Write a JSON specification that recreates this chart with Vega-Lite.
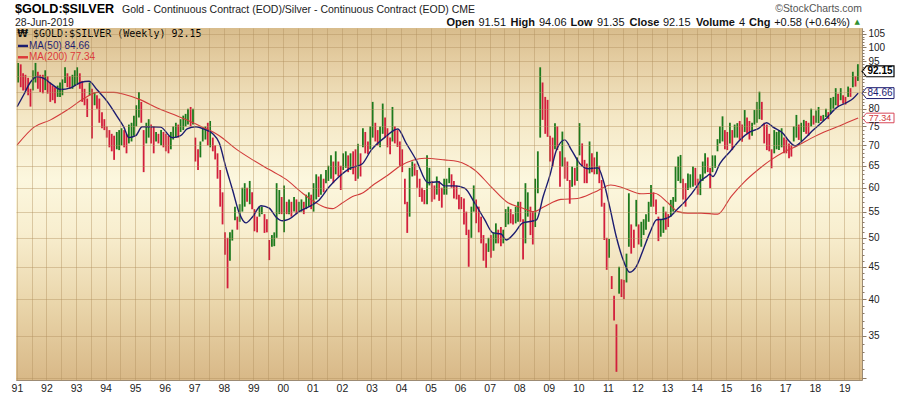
{
"$schema": "https://vega.github.io/schema/vega-lite/v6.json",
"width": 846, "height": 352,
"autosize": {"type": "none"},
"padding": {"left": 16, "top": 28, "right": 38, "bottom": 16},
"background": "#ffffff",
"config": {"view": {"stroke": "#9c8b75", "strokeWidth": 1}, "font": "Liberation Sans", "axis": {"labelOverlap": false, "labelSeparation": 0}},
"datasets": {
"bars": [
{"t":1991.04,"h":94.5,"l":88,"s":"u"},{"t":1991.13,"h":94,"l":86.5,"s":"d"},{"t":1991.21,"h":91,"l":85.5,"s":"d"},{"t":1991.29,"h":90.5,"l":85.5,"s":"d"},{"t":1991.38,"h":89.5,"l":84,"s":"d"},{"t":1991.46,"h":86,"l":80.6,"s":"d"},{"t":1991.54,"h":92,"l":85.5,"s":"u"},{"t":1991.63,"h":94.5,"l":88,"s":"u"},{"t":1991.71,"h":91.5,"l":86,"s":"d"},{"t":1991.79,"h":90.5,"l":85,"s":"d"},{"t":1991.88,"h":90.5,"l":84.6,"s":"d"},{"t":1991.96,"h":92,"l":85.6,"s":"u"},
{"t":1992.04,"h":90,"l":84.5,"s":"d"},{"t":1992.13,"h":88,"l":82,"s":"d"},{"t":1992.21,"h":87,"l":82.5,"s":"d"},{"t":1992.29,"h":86.5,"l":81.6,"s":"d"},{"t":1992.38,"h":87,"l":83.5,"s":"u"},{"t":1992.46,"h":88,"l":83.5,"s":"u"},{"t":1992.54,"h":89,"l":84,"s":"u"},{"t":1992.63,"h":93,"l":87.8,"s":"u"},{"t":1992.71,"h":91,"l":86.5,"s":"d"},{"t":1992.79,"h":90,"l":86,"s":"d"},{"t":1992.88,"h":90.5,"l":86,"s":"u"},{"t":1992.96,"h":92,"l":87,"s":"u"},
{"t":1993.04,"h":93,"l":87.5,"s":"u"},{"t":1993.13,"h":91,"l":86,"s":"d"},{"t":1993.21,"h":88.5,"l":82,"s":"d"},{"t":1993.29,"h":86,"l":81,"s":"d"},{"t":1993.38,"h":83,"l":77.6,"s":"d"},{"t":1993.46,"h":88,"l":84,"s":"u"},{"t":1993.54,"h":86,"l":71.8,"s":"d"},{"t":1993.63,"h":85,"l":81,"s":"u"},{"t":1993.71,"h":84,"l":80,"s":"d"},{"t":1993.79,"h":83,"l":76,"s":"d"},{"t":1993.88,"h":79,"l":74.5,"s":"d"},{"t":1993.96,"h":77,"l":74,"s":"d"},
{"t":1994.04,"h":75,"l":72,"s":"d"},{"t":1994.13,"h":74,"l":69.5,"s":"d"},{"t":1994.21,"h":73,"l":68.5,"s":"d"},{"t":1994.29,"h":72.5,"l":66.4,"s":"d"},{"t":1994.38,"h":73.5,"l":69,"s":"u"},{"t":1994.46,"h":74,"l":68.8,"s":"u"},{"t":1994.54,"h":74.5,"l":70,"s":"u"},{"t":1994.63,"h":74,"l":69.5,"s":"d"},{"t":1994.71,"h":73,"l":68,"s":"d"},{"t":1994.79,"h":75.5,"l":70.5,"s":"u"},{"t":1994.88,"h":76,"l":71,"s":"u"},{"t":1994.96,"h":78,"l":72.5,"s":"u"},
{"t":1995.04,"h":81,"l":75,"s":"u"},{"t":1995.13,"h":85,"l":77.5,"s":"u"},{"t":1995.21,"h":82,"l":76,"s":"d"},{"t":1995.29,"h":74,"l":63.5,"s":"d"},{"t":1995.38,"h":76,"l":70.5,"s":"u"},{"t":1995.46,"h":77,"l":72,"s":"u"},{"t":1995.54,"h":75.5,"l":70.5,"s":"d"},{"t":1995.63,"h":75,"l":68,"s":"d"},{"t":1995.71,"h":73.5,"l":71,"s":"u"},{"t":1995.79,"h":73,"l":70.5,"s":"d"},{"t":1995.88,"h":74,"l":70,"s":"u"},{"t":1995.96,"h":73.5,"l":69.5,"s":"d"},
{"t":1996.04,"h":73,"l":68.5,"s":"d"},{"t":1996.13,"h":72.5,"l":68,"s":"d"},{"t":1996.21,"h":73.5,"l":69,"s":"u"},{"t":1996.29,"h":75,"l":71.5,"s":"u"},{"t":1996.38,"h":76,"l":72,"s":"u"},{"t":1996.46,"h":75.5,"l":72,"s":"d"},{"t":1996.54,"h":77,"l":73.5,"s":"u"},{"t":1996.63,"h":78,"l":74,"s":"u"},{"t":1996.71,"h":78.5,"l":75,"s":"u"},{"t":1996.79,"h":80,"l":75.5,"s":"u"},{"t":1996.88,"h":80.5,"l":75,"s":"d"},{"t":1996.96,"h":80,"l":75.5,"s":"u"},
{"t":1997.04,"h":72,"l":66,"s":"d"},{"t":1997.13,"h":69,"l":64,"s":"d"},{"t":1997.21,"h":71,"l":67,"s":"u"},{"t":1997.29,"h":74.5,"l":71,"s":"u"},{"t":1997.38,"h":75,"l":71.5,"s":"u"},{"t":1997.46,"h":76,"l":70,"s":"d"},{"t":1997.54,"h":76.5,"l":69.5,"s":"u"},{"t":1997.63,"h":72,"l":68.5,"s":"d"},{"t":1997.71,"h":70,"l":66.5,"s":"d"},{"t":1997.79,"h":68,"l":62,"s":"d"},{"t":1997.88,"h":64,"l":56,"s":"d"},{"t":1997.96,"h":59,"l":52.5,"s":"d"},
{"t":1998.04,"h":51,"l":47,"s":"d"},{"t":1998.13,"h":50,"l":41.6,"s":"d"},{"t":1998.21,"h":51,"l":46,"s":"u"},{"t":1998.29,"h":51.5,"l":49.5,"s":"u"},{"t":1998.38,"h":56,"l":53.3,"s":"u"},{"t":1998.46,"h":54,"l":51.5,"s":"d"},{"t":1998.54,"h":56.5,"l":53,"s":"u"},{"t":1998.63,"h":60,"l":55,"s":"u"},{"t":1998.71,"h":61,"l":56,"s":"u"},{"t":1998.79,"h":60,"l":57,"s":"d"},{"t":1998.88,"h":61.5,"l":56.5,"s":"u"},{"t":1998.96,"h":59,"l":55.5,"s":"d"},
{"t":1999.04,"h":55.5,"l":51.2,"s":"d"},{"t":1999.13,"h":54,"l":51,"s":"d"},{"t":1999.21,"h":56,"l":54,"s":"u"},{"t":1999.29,"h":56,"l":54.5,"s":"u"},{"t":1999.38,"h":54.5,"l":50.9,"s":"d"},{"t":1999.46,"h":53.5,"l":51,"s":"d"},{"t":1999.54,"h":49.6,"l":46.1,"s":"d"},{"t":1999.63,"h":50.5,"l":48.4,"s":"u"},{"t":1999.71,"h":51,"l":48.5,"s":"u"},{"t":1999.79,"h":61,"l":50,"s":"u"},{"t":1999.88,"h":59.5,"l":54.5,"s":"u"},{"t":1999.96,"h":58,"l":54.5,"s":"d"},
{"t":2000.04,"h":60.5,"l":51,"s":"u"},{"t":2000.13,"h":57,"l":54.5,"s":"d"},{"t":2000.21,"h":57.5,"l":54.5,"s":"u"},{"t":2000.29,"h":57,"l":54,"s":"d"},{"t":2000.38,"h":58,"l":55,"s":"u"},{"t":2000.46,"h":57.5,"l":54.5,"s":"d"},{"t":2000.54,"h":57,"l":55,"s":"u"},{"t":2000.63,"h":57.5,"l":55,"s":"u"},{"t":2000.71,"h":57,"l":54.5,"s":"d"},{"t":2000.79,"h":58.5,"l":55.5,"s":"u"},{"t":2000.88,"h":59,"l":56,"s":"u"},{"t":2000.96,"h":58.5,"l":55.5,"s":"d"},
{"t":2001.04,"h":61,"l":55,"s":"u"},{"t":2001.13,"h":63,"l":57.5,"s":"u"},{"t":2001.21,"h":62.5,"l":58,"s":"d"},{"t":2001.29,"h":63,"l":58.5,"s":"u"},{"t":2001.38,"h":62,"l":59,"s":"d"},{"t":2001.46,"h":64,"l":61,"s":"u"},{"t":2001.54,"h":65,"l":61.5,"s":"u"},{"t":2001.63,"h":67.5,"l":62,"s":"u"},{"t":2001.71,"h":66,"l":61,"s":"d"},{"t":2001.79,"h":68.5,"l":63,"s":"u"},{"t":2001.88,"h":66,"l":62.5,"s":"d"},{"t":2001.96,"h":65,"l":59.5,"s":"d"},
{"t":2002.04,"h":68,"l":64,"s":"u"},{"t":2002.13,"h":68.5,"l":64.5,"s":"u"},{"t":2002.21,"h":67.5,"l":63.5,"s":"d"},{"t":2002.29,"h":68,"l":64,"s":"u"},{"t":2002.38,"h":68.5,"l":63,"s":"d"},{"t":2002.46,"h":69,"l":61.5,"s":"d"},{"t":2002.54,"h":70.4,"l":62,"s":"u"},{"t":2002.63,"h":68,"l":62.5,"s":"d"},{"t":2002.71,"h":74.5,"l":69.5,"s":"u"},{"t":2002.79,"h":73.5,"l":68,"s":"d"},{"t":2002.88,"h":71,"l":67.8,"s":"d"},{"t":2002.96,"h":75,"l":69,"s":"u"},
{"t":2003.04,"h":82,"l":72,"s":"u"},{"t":2003.13,"h":76,"l":71,"s":"d"},{"t":2003.21,"h":74,"l":70,"s":"d"},{"t":2003.29,"h":75,"l":69.5,"s":"u"},{"t":2003.38,"h":81.5,"l":73,"s":"u"},{"t":2003.46,"h":77.5,"l":72,"s":"d"},{"t":2003.54,"h":74.5,"l":69.5,"s":"d"},{"t":2003.63,"h":72,"l":67.8,"s":"d"},{"t":2003.71,"h":80.5,"l":71,"s":"u"},{"t":2003.79,"h":75,"l":70.5,"s":"d"},{"t":2003.88,"h":74,"l":69.6,"s":"d"},{"t":2003.96,"h":71,"l":65,"s":"d"},
{"t":2004.04,"h":69,"l":63.5,"s":"d"},{"t":2004.13,"h":62,"l":56.5,"s":"d"},{"t":2004.21,"h":57,"l":50.9,"s":"d"},{"t":2004.29,"h":64.5,"l":54,"s":"u"},{"t":2004.38,"h":66,"l":62.5,"s":"u"},{"t":2004.46,"h":65.5,"l":62.7,"s":"d"},{"t":2004.54,"h":64,"l":60,"s":"d"},{"t":2004.63,"h":62,"l":58,"s":"d"},{"t":2004.71,"h":60,"l":57,"s":"d"},{"t":2004.79,"h":59.5,"l":56.5,"s":"d"},{"t":2004.88,"h":67.5,"l":56.5,"s":"u"},{"t":2004.96,"h":64.5,"l":60.5,"s":"u"},
{"t":2005.04,"h":61.5,"l":57,"s":"d"},{"t":2005.13,"h":60.5,"l":57.5,"s":"d"},{"t":2005.21,"h":62.5,"l":58.5,"s":"u"},{"t":2005.29,"h":61.5,"l":57.2,"s":"d"},{"t":2005.38,"h":60,"l":55.8,"s":"d"},{"t":2005.46,"h":62,"l":58.5,"s":"u"},{"t":2005.54,"h":62,"l":58.5,"s":"u"},{"t":2005.63,"h":64.5,"l":61,"s":"u"},{"t":2005.71,"h":63,"l":60,"s":"d"},{"t":2005.79,"h":61.5,"l":57.7,"s":"d"},{"t":2005.88,"h":60.5,"l":57.5,"s":"d"},{"t":2005.96,"h":58.5,"l":55.5,"s":"d"},
{"t":2006.04,"h":58,"l":55.5,"s":"d"},{"t":2006.13,"h":57.7,"l":52.5,"s":"d"},{"t":2006.21,"h":55,"l":50.5,"s":"d"},{"t":2006.29,"h":51.5,"l":45,"s":"d"},{"t":2006.38,"h":56,"l":50,"s":"u"},{"t":2006.46,"h":60.5,"l":55,"s":"u"},{"t":2006.54,"h":57.5,"l":52.7,"s":"d"},{"t":2006.63,"h":56,"l":51,"s":"d"},{"t":2006.71,"h":54,"l":49,"s":"d"},{"t":2006.79,"h":50.5,"l":46,"s":"d"},{"t":2006.88,"h":49,"l":44.8,"s":"d"},{"t":2006.96,"h":50,"l":47.5,"s":"u"},
{"t":2007.04,"h":50.5,"l":46.5,"s":"d"},{"t":2007.13,"h":51,"l":47.7,"s":"u"},{"t":2007.21,"h":52.7,"l":49,"s":"u"},{"t":2007.29,"h":51.5,"l":49,"s":"d"},{"t":2007.38,"h":52,"l":48.5,"s":"d"},{"t":2007.46,"h":51.5,"l":49,"s":"u"},{"t":2007.54,"h":55.5,"l":52,"s":"u"},{"t":2007.63,"h":56,"l":52.5,"s":"u"},{"t":2007.71,"h":55.5,"l":52.7,"s":"d"},{"t":2007.79,"h":54.5,"l":52.5,"s":"d"},{"t":2007.88,"h":56,"l":52.7,"s":"u"},{"t":2007.96,"h":57,"l":53,"s":"u"},
{"t":2008.04,"h":57,"l":53,"s":"d"},{"t":2008.13,"h":53.5,"l":46.2,"s":"d"},{"t":2008.21,"h":61,"l":49,"s":"u"},{"t":2008.29,"h":59,"l":54,"s":"u"},{"t":2008.38,"h":56,"l":50.5,"s":"d"},{"t":2008.46,"h":55,"l":48.8,"s":"d"},{"t":2008.54,"h":62,"l":52,"s":"u"},{"t":2008.63,"h":68.5,"l":58.8,"s":"u"},{"t":2008.71,"h":93,"l":72,"s":"u"},{"t":2008.79,"h":88,"l":76.8,"s":"d"},{"t":2008.88,"h":83.5,"l":73,"s":"d"},{"t":2008.96,"h":82.6,"l":72.2,"s":"d"},
{"t":2009.04,"h":72.5,"l":66,"s":"d"},{"t":2009.13,"h":72,"l":64.8,"s":"d"},{"t":2009.21,"h":75.9,"l":69,"s":"u"},{"t":2009.29,"h":75,"l":68.8,"s":"d"},{"t":2009.38,"h":68.5,"l":60.2,"s":"d"},{"t":2009.46,"h":73.6,"l":64.8,"s":"u"},{"t":2009.54,"h":67,"l":62,"s":"d"},{"t":2009.63,"h":66,"l":61.5,"s":"d"},{"t":2009.71,"h":61.7,"l":56.6,"s":"d"},{"t":2009.79,"h":64.8,"l":60.2,"s":"u"},{"t":2009.88,"h":64.5,"l":60.5,"s":"d"},{"t":2009.96,"h":67,"l":61.5,"s":"u"},
{"t":2010.04,"h":75.9,"l":67.5,"s":"u"},{"t":2010.13,"h":70.5,"l":64.8,"s":"d"},{"t":2010.21,"h":66.4,"l":61,"s":"d"},{"t":2010.29,"h":65.5,"l":61,"s":"d"},{"t":2010.38,"h":71,"l":63.2,"s":"u"},{"t":2010.46,"h":68,"l":63.5,"s":"d"},{"t":2010.54,"h":67,"l":63,"s":"d"},{"t":2010.63,"h":68.4,"l":63,"s":"u"},{"t":2010.71,"h":65,"l":61,"s":"d"},{"t":2010.79,"h":61.7,"l":56,"s":"d"},{"t":2010.88,"h":56.8,"l":49.6,"s":"d"},{"t":2010.96,"h":50,"l":44.5,"s":"d"},
{"t":2011.04,"h":49.8,"l":46.5,"s":"u"},{"t":2011.13,"h":43.5,"l":41.5,"s":"d"},{"t":2011.21,"h":40.5,"l":37,"s":"d"},{"t":2011.29,"h":36.5,"l":30.7,"s":"d"},{"t":2011.38,"h":45,"l":40.8,"s":"u"},{"t":2011.46,"h":43,"l":40.3,"s":"d"},{"t":2011.54,"h":42.9,"l":40,"s":"d"},{"t":2011.63,"h":47.2,"l":42.5,"s":"u"},{"t":2011.71,"h":58.8,"l":48.4,"s":"u"},{"t":2011.79,"h":52.5,"l":47.2,"s":"d"},{"t":2011.88,"h":51.5,"l":48.2,"s":"d"},{"t":2011.96,"h":57.4,"l":52.1,"s":"u"},
{"t":2012.04,"h":52.5,"l":48.8,"s":"d"},{"t":2012.13,"h":53,"l":48.4,"s":"u"},{"t":2012.21,"h":53.5,"l":50.5,"s":"u"},{"t":2012.29,"h":54.5,"l":51.5,"s":"u"},{"t":2012.38,"h":57,"l":53,"s":"u"},{"t":2012.46,"h":60.6,"l":56,"s":"u"},{"t":2012.54,"h":59,"l":56,"s":"d"},{"t":2012.63,"h":57.5,"l":54.5,"s":"d"},{"t":2012.71,"h":54,"l":49.4,"s":"d"},{"t":2012.79,"h":53.5,"l":50.2,"s":"u"},{"t":2012.88,"h":56,"l":50.9,"s":"u"},{"t":2012.96,"h":55,"l":51.5,"s":"d"},
{"t":2013.04,"h":54.5,"l":52,"s":"d"},{"t":2013.13,"h":57.4,"l":54,"s":"u"},{"t":2013.21,"h":58,"l":55,"s":"u"},{"t":2013.29,"h":64.8,"l":57,"s":"u"},{"t":2013.38,"h":67.2,"l":61.5,"s":"u"},{"t":2013.46,"h":67.6,"l":61,"s":"u"},{"t":2013.54,"h":62,"l":57.5,"s":"d"},{"t":2013.63,"h":61,"l":56,"s":"d"},{"t":2013.71,"h":63.2,"l":59.5,"s":"u"},{"t":2013.79,"h":63,"l":60,"s":"u"},{"t":2013.88,"h":64.8,"l":60.2,"s":"u"},{"t":2013.96,"h":64.5,"l":60.5,"s":"d"},
{"t":2014.04,"h":62,"l":58.5,"s":"d"},{"t":2014.13,"h":63,"l":58.4,"s":"u"},{"t":2014.21,"h":66,"l":61.5,"s":"u"},{"t":2014.29,"h":68,"l":63.2,"s":"u"},{"t":2014.38,"h":67,"l":63.5,"s":"d"},{"t":2014.46,"h":64.5,"l":59.9,"s":"d"},{"t":2014.54,"h":67.5,"l":63.5,"s":"u"},{"t":2014.63,"h":67.5,"l":64.5,"s":"u"},{"t":2014.71,"h":71.6,"l":68.5,"s":"u"},{"t":2014.79,"h":75,"l":70.5,"s":"u"},{"t":2014.88,"h":77.8,"l":71,"s":"u"},{"t":2014.96,"h":74,"l":69,"s":"d"},
{"t":2015.04,"h":73.5,"l":68.8,"s":"d"},{"t":2015.13,"h":76,"l":70.5,"s":"u"},{"t":2015.21,"h":74,"l":68.8,"s":"d"},{"t":2015.29,"h":75.5,"l":72,"s":"u"},{"t":2015.38,"h":75.9,"l":72,"s":"u"},{"t":2015.46,"h":76.5,"l":71.4,"s":"d"},{"t":2015.54,"h":75.5,"l":70.9,"s":"d"},{"t":2015.63,"h":79.6,"l":73.5,"s":"u"},{"t":2015.71,"h":77.5,"l":73,"s":"d"},{"t":2015.79,"h":76.5,"l":71.5,"s":"d"},{"t":2015.88,"h":76,"l":72.5,"s":"u"},{"t":2015.96,"h":79.6,"l":75.5,"s":"u"},
{"t":2016.04,"h":82,"l":76,"s":"u"},{"t":2016.13,"h":85.1,"l":77,"s":"u"},{"t":2016.21,"h":82,"l":76.8,"s":"d"},{"t":2016.29,"h":76,"l":70.5,"s":"d"},{"t":2016.38,"h":75.5,"l":68.8,"s":"d"},{"t":2016.46,"h":73,"l":68.5,"s":"d"},{"t":2016.54,"h":69,"l":64.4,"s":"d"},{"t":2016.63,"h":74,"l":68,"s":"u"},{"t":2016.71,"h":73.5,"l":69,"s":"u"},{"t":2016.79,"h":74,"l":68.8,"s":"u"},{"t":2016.88,"h":74.5,"l":69.5,"s":"u"},{"t":2016.96,"h":72,"l":68,"s":"d"},
{"t":2017.04,"h":71.5,"l":68,"s":"d"},{"t":2017.13,"h":70.5,"l":66.8,"s":"d"},{"t":2017.21,"h":70,"l":67.2,"s":"d"},{"t":2017.29,"h":75,"l":71,"s":"u"},{"t":2017.38,"h":78.2,"l":72,"s":"u"},{"t":2017.46,"h":75.5,"l":71.4,"s":"d"},{"t":2017.54,"h":76,"l":71,"s":"u"},{"t":2017.63,"h":76.8,"l":73.5,"s":"u"},{"t":2017.71,"h":76.5,"l":73,"s":"d"},{"t":2017.79,"h":76,"l":72.5,"s":"d"},{"t":2017.88,"h":80,"l":75,"s":"u"},{"t":2017.96,"h":78,"l":75.5,"s":"d"},
{"t":2018.04,"h":79.5,"l":76,"s":"u"},{"t":2018.13,"h":80.5,"l":75.9,"s":"u"},{"t":2018.21,"h":78,"l":76.5,"s":"d"},{"t":2018.29,"h":78.2,"l":76.5,"s":"u"},{"t":2018.38,"h":80,"l":77.6,"s":"u"},{"t":2018.46,"h":79,"l":77,"s":"d"},{"t":2018.54,"h":83.2,"l":78.5,"s":"u"},{"t":2018.63,"h":83.5,"l":80,"s":"u"},{"t":2018.71,"h":86.2,"l":81,"s":"u"},{"t":2018.79,"h":84.5,"l":80.6,"s":"d"},{"t":2018.88,"h":86.2,"l":82.5,"s":"u"},{"t":2018.96,"h":84,"l":81.5,"s":"d"},
{"t":2019.04,"h":83.5,"l":81.2,"s":"d"},{"t":2019.13,"h":86.7,"l":83.5,"s":"u"},{"t":2019.21,"h":86.2,"l":83.5,"s":"d"},{"t":2019.29,"h":91.5,"l":86.5,"s":"u"},{"t":2019.38,"h":90,"l":86.7,"s":"d"},{"t":2019.46,"h":94.06,"l":88.5,"s":"u"}
],
"ma50": [
{"t":1991.01,"v":80.6},{"t":1991.24,"v":84.3},{"t":1991.45,"v":88.0},{"t":1991.69,"v":89.9},{"t":1991.91,"v":89.3},{"t":1992.2,"v":87.3},{"t":1992.48,"v":85.8},{"t":1992.82,"v":86.3},{"t":1993.16,"v":88.0},{"t":1993.44,"v":88.4},{"t":1993.72,"v":85.6},{"t":1994.06,"v":82.1},{"t":1994.39,"v":77.8},{"t":1994.62,"v":74.8},{"t":1994.79,"v":72.0},{"t":1995.02,"v":72.5},{"t":1995.24,"v":74.9},{"t":1995.52,"v":74.9},{"t":1995.86,"v":74.8},{"t":1996.26,"v":72.0},{"t":1996.54,"v":72.5},{"t":1996.76,"v":74.3},{"t":1997.06,"v":74.9},{"t":1997.35,"v":74.2},{"t":1997.62,"v":73.1},{"t":1997.85,"v":70.6},{"t":1998.07,"v":64.7},{"t":1998.30,"v":59.5},{"t":1998.52,"v":54.8},{"t":1998.75,"v":52.8},{"t":1998.98,"v":54.0},{"t":1999.26,"v":56.2},{"t":1999.54,"v":55.7},{"t":1999.76,"v":54.0},{"t":1999.99,"v":53.2},{"t":2000.21,"v":53.5},{"t":2000.55,"v":55.0},{"t":2000.89,"v":56.0},{"t":2001.23,"v":57.4},{"t":2001.57,"v":60.2},{"t":2001.91,"v":62.5},{"t":2002.25,"v":64.3},{"t":2002.68,"v":65.4},{"t":2002.99,"v":68.8},{"t":2003.44,"v":72.0},{"t":2003.89,"v":74.3},{"t":2004.17,"v":70.6},{"t":2004.51,"v":66.4},{"t":2004.91,"v":61.1},{"t":2005.25,"v":61.3},{"t":2005.47,"v":60.4},{"t":2005.81,"v":60.4},{"t":2006.15,"v":59.9},{"t":2006.49,"v":56.8},{"t":2006.83,"v":53.4},{"t":2007.11,"v":50.9},{"t":2007.39,"v":50.7},{"t":2007.56,"v":49.6},{"t":2007.84,"v":50.9},{"t":2008.12,"v":52.8},{"t":2008.50,"v":53.2},{"t":2008.59,"v":53.4},{"t":2008.81,"v":58.1},{"t":2009.04,"v":62.8},{"t":2009.26,"v":68.8},{"t":2009.54,"v":71.4},{"t":2009.77,"v":68.8},{"t":2010.05,"v":65.5},{"t":2010.33,"v":64.3},{"t":2010.67,"v":64.5},{"t":2010.84,"v":61.7},{"t":2011.06,"v":56.0},{"t":2011.29,"v":50.1},{"t":2011.52,"v":46.1},{"t":2011.74,"v":44.1},{"t":2011.97,"v":45.1},{"t":2012.19,"v":47.8},{"t":2012.42,"v":50.9},{"t":2012.65,"v":53.4},{"t":2012.87,"v":53.5},{"t":2013.10,"v":54.0},{"t":2013.32,"v":55.3},{"t":2013.66,"v":57.4},{"t":2014.00,"v":60.2},{"t":2014.11,"v":61.3},{"t":2014.32,"v":62.4},{"t":2014.45,"v":63.0},{"t":2014.56,"v":62.5},{"t":2014.79,"v":65.5},{"t":2015.13,"v":68.4},{"t":2015.47,"v":71.4},{"t":2015.81,"v":73.5},{"t":2016.09,"v":74.4},{"t":2016.37,"v":76.0},{"t":2016.59,"v":74.8},{"t":2016.93,"v":73.1},{"t":2017.10,"v":71.4},{"t":2017.33,"v":69.9},{"t":2017.61,"v":71.4},{"t":2017.95,"v":74.0},{"t":2018.40,"v":77.3},{"t":2018.74,"v":80.3},{"t":2019.08,"v":81.8},{"t":2019.30,"v":83.0},{"t":2019.47,"v":84.66}
],
"ma200": [
{"t":1991.01,"v":70.1},{"t":1991.58,"v":74.8},{"t":1992.14,"v":76.8},{"t":1992.70,"v":79.6},{"t":1993.27,"v":83.0},{"t":1993.72,"v":84.9},{"t":1994.28,"v":84.9},{"t":1994.62,"v":84.3},{"t":1995.19,"v":82.6},{"t":1995.75,"v":80.2},{"t":1996.31,"v":78.3},{"t":1996.85,"v":76.4},{"t":1997.28,"v":74.8},{"t":1997.85,"v":72.5},{"t":1998.41,"v":69.1},{"t":1998.98,"v":66.4},{"t":1999.54,"v":64.1},{"t":2000.10,"v":61.9},{"t":2000.67,"v":58.8},{"t":2001.12,"v":56.8},{"t":2001.46,"v":55.8},{"t":2001.68,"v":55.6},{"t":2002.02,"v":56.8},{"t":2002.36,"v":58.1},{"t":2002.68,"v":58.8},{"t":2003.10,"v":60.8},{"t":2003.55,"v":62.8},{"t":2004.01,"v":65.1},{"t":2004.40,"v":66.3},{"t":2004.80,"v":66.8},{"t":2005.47,"v":66.4},{"t":2005.92,"v":66.0},{"t":2006.49,"v":64.0},{"t":2007.05,"v":60.2},{"t":2007.62,"v":56.8},{"t":2008.07,"v":55.8},{"t":2008.50,"v":55.0},{"t":2008.84,"v":56.0},{"t":2009.41,"v":57.5},{"t":2009.97,"v":57.7},{"t":2010.54,"v":59.0},{"t":2011.10,"v":60.6},{"t":2011.55,"v":59.9},{"t":2012.12,"v":58.7},{"t":2012.58,"v":58.8},{"t":2013.03,"v":56.8},{"t":2013.37,"v":55.0},{"t":2013.71,"v":54.7},{"t":2014.16,"v":54.7},{"t":2014.72,"v":54.5},{"t":2015.17,"v":58.1},{"t":2015.62,"v":61.3},{"t":2016.07,"v":64.0},{"t":2016.52,"v":66.4},{"t":2016.97,"v":68.4},{"t":2017.42,"v":69.9},{"t":2017.87,"v":71.8},{"t":2018.32,"v":73.5},{"t":2018.76,"v":74.9},{"t":2019.08,"v":76.0},{"t":2019.47,"v":77.34}
]
},
"layer": [
{"data": {"values": [{}]},
 "mark": {"type": "rect", "color": {"gradient": "linear", "x1": 0, "y1": 0, "x2": 0, "y2": 1, "stops": [
   {"offset": 0, "color": "#d8bc8c"}, {"offset": 0.08, "color": "#e3cb9f"}, {"offset": 0.25, "color": "#f4e7c5"}, {"offset": 0.43, "color": "#fcf7de"}, {"offset": 0.58, "color": "#f8eecf"}, {"offset": 0.78, "color": "#ead6ab"}, {"offset": 1, "color": "#d8b887"}]}},
 "encoding": {
  "x": {"datum": 1990.97, "type": "quantitative",
    "scale": {"domain": [1990.97, 2019.6], "nice": false, "zero": false},
    "axis": {"title": null, "orient": "bottom", "tickCount": 200, "values": [1991,1991.5,1992,1992.5,1993,1993.5,1994,1994.5,1995,1995.5,1996,1996.5,1997,1997.5,1998,1998.5,1999,1999.5,2000,2000.5,2001,2001.5,2002,2002.5,2003,2003.5,2004,2004.5,2005,2005.5,2006,2006.5,2007,2007.5,2008,2008.5,2009,2009.5,2010,2010.5,2011,2011.5,2012,2012.5,2013,2013.5,2014,2014.5,2015,2015.5,2016,2016.5,2017,2017.5,2018,2018.5,2019,2019.5],
      "labelExpr": "datum.value % 1 == 0 ? slice(toString(datum.value), 2) : ''",
      "labelOverlap": false, "labelSeparation": 0, "labelFlush": false, "labelFont": "Liberation Sans", "labelFontSize": 10.5, "labelColor": "#222222", "labelPadding": 3,
      "ticks": false, "domain": false, "grid": true, "gridColor": "#b1905c", "gridOpacity": 0.42, "gridWidth": 1, "zindex": 1}},
  "x2": {"datum": 2019.6},
  "y": {"datum": 107.3, "type": "quantitative",
    "scale": {"type": "log", "domain": [29.8, 107.3], "nice": false},
    "axis": {"title": null, "orient": "right", "tickCount": 200, "values": [30,31,32,33,34,35,36,37,38,39,40,41,42,43,44,45,46,47,48,49,50,51,52,53,54,55,56,57,58,59,60,61,62,63,64,65,66,67,68,69,70,71,72,73,74,75,76,77,78,79,80,81,82,83,84,85,86,87,88,89,90,91,92,93,94,95,96,97,98,99,100,101,102,103,104,105,106],
      "labelExpr": "datum.value % 5 == 0 && datum.value >= 35 && datum.value != 85 && datum.value != 90 ? datum.label : ''",
      "labelOverlap": false, "labelFlush": false, "labelFont": "Liberation Sans", "labelFontSize": 10, "labelColor": "#222222", "labelPadding": 2,
      "tickSize": {"condition": {"test": "datum.value % 5 == 0", "value": 4}, "value": 2}, "tickColor": "#8c7b66",
      "domain": false, "grid": true, "gridColor": "#b1905c", "gridOpacity": {"condition": {"test": "datum.value % 5 == 0", "value": 0.42}, "value": 0}, "zindex": 1}},
  "y2": {"datum": 29.8}}},
{"data": {"name": "bars"},
 "mark": {"type": "rule", "strokeWidth": 1.8},
 "encoding": {
  "x": {"field": "t", "type": "quantitative", "title": null},
  "y": {"field": "l", "type": "quantitative", "title": null},
  "y2": {"field": "h"},
  "color": {"field": "s", "type": "nominal", "scale": {"domain": ["d", "u"], "range": ["#d21f3c", "#1d7a1d"]}, "legend": null}
 }},
{"data": {"name": "ma200"},
 "mark": {"type": "line", "color": "#d23a3a", "strokeWidth": 1.1, "interpolate": "monotone"},
 "encoding": {"x": {"field": "t", "type": "quantitative", "title": null}, "y": {"field": "v", "type": "quantitative", "title": null}}},
{"data": {"name": "ma50"},
 "mark": {"type": "line", "color": "#1c1c70", "strokeWidth": 1.4, "interpolate": "monotone"},
 "encoding": {"x": {"field": "t", "type": "quantitative", "title": null}, "y": {"field": "v", "type": "quantitative", "title": null}}},

{"data": {"values": [{}]}, "mark": {"type": "text", "text": "$GOLD:$SILVER", "align": "left", "baseline": "middle", "dx": -1, "font": "Liberation Sans", "fontSize": 12.6, "fontWeight": "bold", "color": "#000000"},
 "encoding": {"x": {"datum": 1990.97, "type": "quantitative"}, "y": {"datum": 114.86, "type": "quantitative"}}},
{"data": {"values": [{}]}, "mark": {"type": "text", "text": "Gold - Continuous Contract (EOD)/Silver - Continuous Contract (EOD) CME", "align": "left", "baseline": "middle", "dx": 106, "font": "Liberation Sans", "fontSize": 10.5, "color": "#222222"},
 "encoding": {"x": {"datum": 1990.97, "type": "quantitative"}, "y": {"datum": 114.6, "type": "quantitative"}}},
{"data": {"values": [{}]}, "mark": {"type": "text", "text": "©StockCharts.com", "align": "right", "baseline": "middle", "dx": 0, "font": "Liberation Sans", "fontSize": 10.4, "color": "#555555"},
 "encoding": {"x": {"datum": 2019.6, "type": "quantitative"}, "y": {"datum": 114.86, "type": "quantitative"}}},
{"data": {"values": [{}]}, "mark": {"type": "text", "text": "28-Jun-2019", "align": "left", "baseline": "middle", "dx": -1, "font": "Liberation Sans", "fontSize": 10.5, "color": "#222222"},
 "encoding": {"x": {"datum": 1990.97, "type": "quantitative"}, "y": {"datum": 109.3, "type": "quantitative"}}},
{"data": {"values": [{}]}, "mark": {"type": "text", "text": "▲", "align": "right", "baseline": "middle", "dx": -2, "font": "DejaVu Sans", "fontSize": 7, "color": "#2f8f2f"},
 "encoding": {"x": {"datum": 2019.6, "type": "quantitative"}, "y": {"datum": 109.5, "type": "quantitative"}}},
{"data": {"values": [{}]}, "mark": {"type": "text", "text": "+0.58 (+0.64%)", "align": "right", "baseline": "middle", "dx": -12, "font": "Liberation Sans", "fontSize": 11, "color": "#111111"},
 "encoding": {"x": {"datum": 2019.6, "type": "quantitative"}, "y": {"datum": 109.45, "type": "quantitative"}}},
{"data": {"values": [{}]}, "mark": {"type": "text", "text": "Chg", "align": "right", "baseline": "middle", "dx": -91.5, "font": "Liberation Sans", "fontSize": 11, "fontWeight": "bold", "color": "#111111"},
 "encoding": {"x": {"datum": 2019.6, "type": "quantitative"}, "y": {"datum": 109.45, "type": "quantitative"}}},
{"data": {"values": [{}]}, "mark": {"type": "text", "text": "4", "align": "right", "baseline": "middle", "dx": -117, "font": "Liberation Sans", "fontSize": 11, "color": "#111111"},
 "encoding": {"x": {"datum": 2019.6, "type": "quantitative"}, "y": {"datum": 109.45, "type": "quantitative"}}},
{"data": {"values": [{}]}, "mark": {"type": "text", "text": "Volume", "align": "right", "baseline": "middle", "dx": -127, "font": "Liberation Sans", "fontSize": 11, "fontWeight": "bold", "color": "#111111"},
 "encoding": {"x": {"datum": 2019.6, "type": "quantitative"}, "y": {"datum": 109.45, "type": "quantitative"}}},
{"data": {"values": [{}]}, "mark": {"type": "text", "text": "92.15", "align": "right", "baseline": "middle", "dx": -171.5, "font": "Liberation Sans", "fontSize": 11, "color": "#111111"},
 "encoding": {"x": {"datum": 2019.6, "type": "quantitative"}, "y": {"datum": 109.45, "type": "quantitative"}}},
{"data": {"values": [{}]}, "mark": {"type": "text", "text": "Close", "align": "right", "baseline": "middle", "dx": -202.5, "font": "Liberation Sans", "fontSize": 11, "fontWeight": "bold", "color": "#111111"},
 "encoding": {"x": {"datum": 2019.6, "type": "quantitative"}, "y": {"datum": 109.45, "type": "quantitative"}}},
{"data": {"values": [{}]}, "mark": {"type": "text", "text": "91.35", "align": "right", "baseline": "middle", "dx": -237.5, "font": "Liberation Sans", "fontSize": 11, "color": "#111111"},
 "encoding": {"x": {"datum": 2019.6, "type": "quantitative"}, "y": {"datum": 109.45, "type": "quantitative"}}},
{"data": {"values": [{}]}, "mark": {"type": "text", "text": "Low", "align": "right", "baseline": "middle", "dx": -269.5, "font": "Liberation Sans", "fontSize": 11, "fontWeight": "bold", "color": "#111111"},
 "encoding": {"x": {"datum": 2019.6, "type": "quantitative"}, "y": {"datum": 109.45, "type": "quantitative"}}},
{"data": {"values": [{}]}, "mark": {"type": "text", "text": "94.06", "align": "right", "baseline": "middle", "dx": -295.5, "font": "Liberation Sans", "fontSize": 11, "color": "#111111"},
 "encoding": {"x": {"datum": 2019.6, "type": "quantitative"}, "y": {"datum": 109.45, "type": "quantitative"}}},
{"data": {"values": [{}]}, "mark": {"type": "text", "text": "High", "align": "right", "baseline": "middle", "dx": -327, "font": "Liberation Sans", "fontSize": 11, "fontWeight": "bold", "color": "#111111"},
 "encoding": {"x": {"datum": 2019.6, "type": "quantitative"}, "y": {"datum": 109.45, "type": "quantitative"}}},
{"data": {"values": [{}]}, "mark": {"type": "text", "text": "91.51", "align": "right", "baseline": "middle", "dx": -356, "font": "Liberation Sans", "fontSize": 11, "color": "#111111"},
 "encoding": {"x": {"datum": 2019.6, "type": "quantitative"}, "y": {"datum": 109.45, "type": "quantitative"}}},
{"data": {"values": [{}]}, "mark": {"type": "text", "text": "Open", "align": "right", "baseline": "middle", "dx": -387.5, "font": "Liberation Sans", "fontSize": 11, "fontWeight": "bold", "color": "#111111"},
 "encoding": {"x": {"datum": 2019.6, "type": "quantitative"}, "y": {"datum": 109.45, "type": "quantitative"}}},

{"data": {"values": [{}]}, "mark": {"type": "text", "text": "₩", "align": "left", "baseline": "middle", "dx": 1, "font": "DejaVu Sans", "fontSize": 10, "fontWeight": "bold", "color": "#111111"},
 "encoding": {"x": {"datum": 1990.97, "type": "quantitative"}, "y": {"datum": 105.0, "type": "quantitative"}}},
{"data": {"values": [{}]}, "mark": {"type": "text", "text": "$GOLD:$SILVER (Weekly) 92.15", "align": "left", "baseline": "middle", "dx": 17, "font": "DejaVu Sans Mono", "fontSize": 10, "color": "#000000"},
 "encoding": {"x": {"datum": 1990.97, "type": "quantitative"}, "y": {"datum": 105.0, "type": "quantitative"}}},
{"data": {"values": [{}]}, "mark": {"type": "rule", "color": "#1c1c70", "strokeWidth": 2.5},
 "encoding": {"x": {"datum": 1991.038, "type": "quantitative"}, "x2": {"datum": 1991.376}, "y": {"datum": 100.5, "type": "quantitative"}}},
{"data": {"values": [{}]}, "mark": {"type": "text", "text": "MA(50) 84.66", "align": "left", "baseline": "middle", "dx": 13, "font": "Liberation Sans", "fontSize": 10, "color": "#1c1c70"},
 "encoding": {"x": {"datum": 1990.97, "type": "quantitative"}, "y": {"datum": 100.5, "type": "quantitative"}}},
{"data": {"values": [{}]}, "mark": {"type": "rule", "color": "#dd3a3a", "strokeWidth": 2.5},
 "encoding": {"x": {"datum": 1991.038, "type": "quantitative"}, "x2": {"datum": 1991.376}, "y": {"datum": 96.45, "type": "quantitative"}}},
{"data": {"values": [{}]}, "mark": {"type": "text", "text": "MA(200) 77.34", "align": "left", "baseline": "middle", "dx": 13, "font": "Liberation Sans", "fontSize": 10, "color": "#dd3a3a"},
 "encoding": {"x": {"datum": 1990.97, "type": "quantitative"}, "y": {"datum": 96.45, "type": "quantitative"}}},

{"data": {"values": [{}]}, "mark": {"type": "point", "shape": "M -1 0 L -0.72 -0.34 L 1 -0.34 L 1 0.34 L -0.72 0.34 Z", "size": 1024, "filled": true, "fill": "#ffffff", "stroke": "#000000", "strokeWidth": 1.2, "opacity": 1, "xOffset": 16, "yOffset": 1.5},
 "encoding": {"x": {"datum": 2019.6, "type": "quantitative"}, "y": {"datum": 92.15, "type": "quantitative"}}},
{"data": {"values": [{}]}, "mark": {"type": "text", "text": "92.15", "align": "center", "baseline": "middle", "dx": 18, "dy": 1.5, "font": "Liberation Sans", "fontSize": 10, "fontWeight": "bold", "color": "#000000"},
 "encoding": {"x": {"datum": 2019.6, "type": "quantitative"}, "y": {"datum": 92.15, "type": "quantitative"}}},
{"data": {"values": [{}]}, "mark": {"type": "point", "shape": "M -1 0 L -0.72 -0.34 L 1 -0.34 L 1 0.34 L -0.72 0.34 Z", "size": 1024, "filled": true, "fill": "#ffffff", "stroke": "#1c1c70", "strokeWidth": 1, "opacity": 1, "xOffset": 16},
 "encoding": {"x": {"datum": 2019.6, "type": "quantitative"}, "y": {"datum": 84.66, "type": "quantitative"}}},
{"data": {"values": [{}]}, "mark": {"type": "text", "text": "84.66", "align": "center", "baseline": "middle", "dx": 18, "font": "Liberation Sans", "fontSize": 10, "color": "#1c1c70"},
 "encoding": {"x": {"datum": 2019.6, "type": "quantitative"}, "y": {"datum": 84.66, "type": "quantitative"}}},
{"data": {"values": [{}]}, "mark": {"type": "point", "shape": "M -1 0 L -0.72 -0.3 L 1 -0.3 L 1 0.3 L -0.72 0.3 Z", "size": 1024, "filled": true, "fill": "#ffffff", "stroke": "#d8485a", "strokeWidth": 1, "opacity": 1, "xOffset": 16},
 "encoding": {"x": {"datum": 2019.6, "type": "quantitative"}, "y": {"datum": 77.34, "type": "quantitative"}}},
{"data": {"values": [{}]}, "mark": {"type": "text", "text": "77.34", "align": "center", "baseline": "middle", "dx": 18, "font": "Liberation Sans", "fontSize": 9, "color": "#d23a3a"},
 "encoding": {"x": {"datum": 2019.6, "type": "quantitative"}, "y": {"datum": 77.34, "type": "quantitative"}}}
]
}
